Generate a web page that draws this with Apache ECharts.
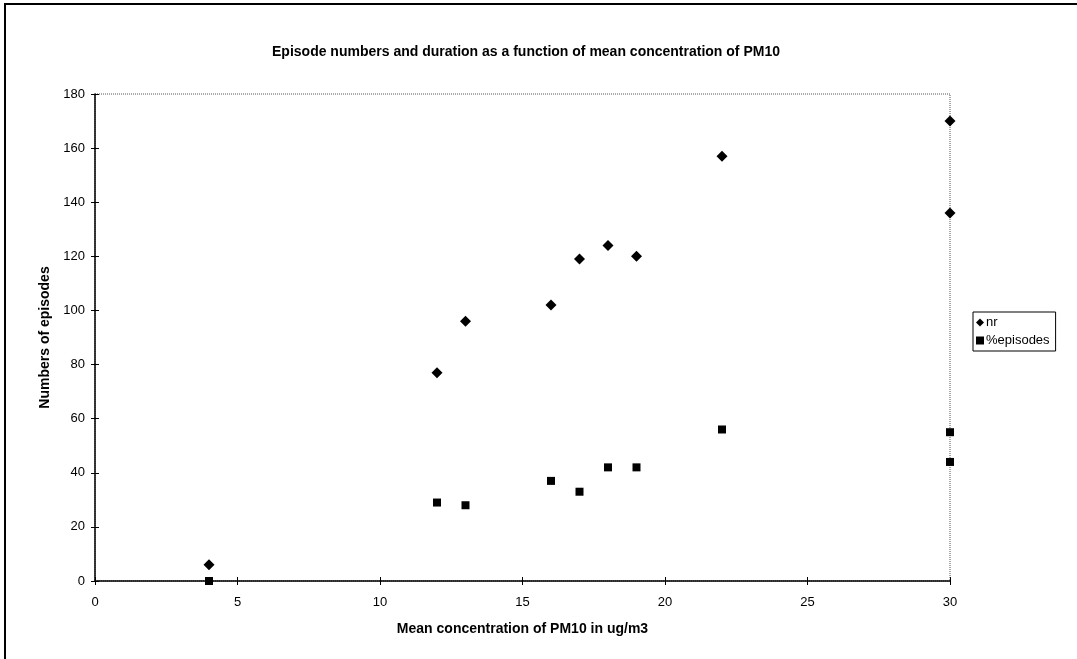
<!DOCTYPE html>
<html>
<head>
<meta charset="utf-8">
<script src="https://cdn.jsdelivr.net/npm/echarts@6/dist/echarts.min.js"></script>
<style>
html,body{margin:0;padding:0;background:#fff;}
#chart{width:1077px;height:659px;}
</style>
</head>
<body>
<div id="chart"></div>
<script>
var titleText = 'Episode numbers and duration as a function of mean concentration of PM10';
var xTitle = 'Mean concentration of PM10 in ug/m3';
var yTitle = 'Numbers of episodes';
var concentration = [4, 12, 13, 16, 17, 18, 19, 22, 30, 30];
var nrValues = [6, 77, 96, 102, 119, 124, 120, 157, 170, 136];
var pctEpisodes = [0, 29, 28, 37, 33, 42, 42, 56, 55, 44];
var seriesNames = ['nr', '%episodes'];

function pairs(xs, ys){ return xs.map(function(x,i){ return [x, ys[i]]; }); }

var chart = echarts.init(document.getElementById('chart'));
var font = 'Liberation Sans, Arial, sans-serif';
chart.setOption({
  animation: false,
  backgroundColor: '#fff',
  title: {
    text: titleText, left: 521, top: 40, textAlign: 'center',
    textStyle: {fontFamily: font, fontSize: 14, fontWeight: 'bold', color: '#000'}
  },
  legend: {
    orient: 'vertical', left: 973, top: 312,
    data: seriesNames, itemWidth: 8, itemHeight: 8, itemGap: 5,
    borderColor: '#000', borderWidth: 1, padding: [4, 6, 4, 3],
    textStyle: {fontFamily: font, fontSize: 13, color: '#000', padding: [0,0,0,-3]}
  },
  grid: {left: 95, right: 127, top: 94, bottom: 78, show: true, borderColor: '#555', borderWidth: 1, borderType: 'dotted'},
  xAxis: [{
    type: 'value', min: 0, max: 30, interval: 5, position: 'bottom',
    name: xTitle, nameLocation: 'middle', nameGap: 41,
    nameTextStyle: {fontFamily: font, fontSize: 14, fontWeight: 'bold', color: '#000'},
    axisLine: {onZero: false, lineStyle: {color: '#000', width: 1.5}},
    axisTick: {length: 4, lineStyle: {color: '#000'}},
    axisLabel: {fontFamily: font, fontSize: 13, color: '#000', margin: 15},
    splitLine: {show: false}
  }, {
    type: 'value', min: 0, max: 30, interval: 5, position: 'bottom', offset: 0,
    axisLine: {show: false}, axisLabel: {show: false}, splitLine: {show: false},
    axisTick: {show: true, inside: true, length: 4, lineStyle: {color: '#000'}}
  }],
  yAxis: [{
    type: 'value', min: 0, max: 180, interval: 20, position: 'left',
    name: yTitle, nameLocation: 'middle', nameGap: 42,
    nameTextStyle: {fontFamily: font, fontSize: 14, fontWeight: 'bold', color: '#000'},
    axisLine: {show: true, lineStyle: {color: '#000', width: 1.5}},
    axisTick: {show: true, length: 4, lineStyle: {color: '#000'}},
    axisLabel: {fontFamily: font, fontSize: 13, color: '#000', margin: 10},
    splitLine: {show: false}
  }, {
    type: 'value', min: 0, max: 180, interval: 20, position: 'left', offset: 0,
    axisLine: {show: false}, axisLabel: {show: false}, splitLine: {show: false},
    axisTick: {show: true, inside: true, length: 4, lineStyle: {color: '#000'}}
  }],
  series: [
    {name: seriesNames[0], type: 'scatter', symbol: 'diamond', symbolSize: 11,
     itemStyle: {color: '#000', opacity: 1}, data: pairs(concentration, nrValues)},
    {name: seriesNames[1], type: 'scatter', symbol: 'rect', symbolSize: 8,
     itemStyle: {color: '#000', opacity: 1}, data: pairs(concentration, pctEpisodes)}
  ],
  graphic: [
    {type: 'rect', shape: {x: 5, y: 4, width: 1200, height: 800},
     style: {fill: 'none', stroke: '#000', lineWidth: 2}, silent: true}
  ]
});
</script>
</body>
</html>
